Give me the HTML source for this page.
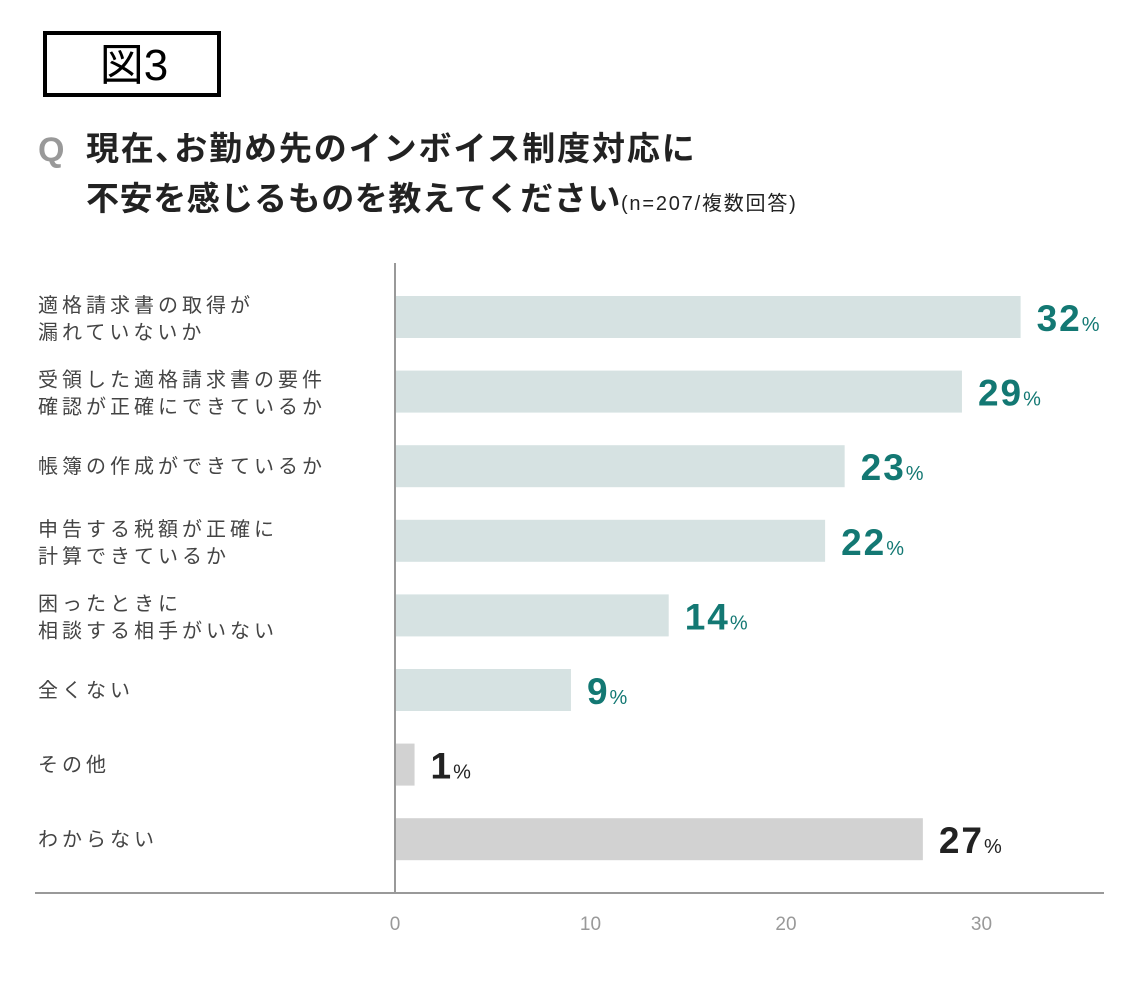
<!DOCTYPE html>
<html><head><meta charset="utf-8"><style>
body{margin:0;background:#fff;}
svg text{font-family:"Liberation Sans","Noto Sans CJK JP",sans-serif;}
</style></head><body>
<svg width="1143" height="983" viewBox="0 0 1143 983" xmlns="http://www.w3.org/2000/svg">
<rect x="45" y="33" width="174" height="62" fill="#fff" stroke="#000" stroke-width="4"/>
<text x="134" y="80" font-size="44" text-anchor="middle" fill="#000">図3</text>
<text x="38" y="161" font-size="34" font-weight="bold" fill="#999">Q</text>
<text x="86" y="160" font-size="33" font-weight="bold" fill="#222" letter-spacing="1.9">現在､お勤め先のインボイス制度対応に</text>
<text x="86" y="210" font-size="33" font-weight="bold" fill="#222" letter-spacing="0.6">不安を感じるものを教えてください<tspan font-size="20" font-weight="normal" letter-spacing="1.8">(n=207/複数回答)</tspan></text>
<g id="bars"></g>
<line x1="395" y1="263" x2="395" y2="893" stroke="#999" stroke-width="2"/>
<line x1="35" y1="893" x2="1104" y2="893" stroke="#999" stroke-width="2"/>
<g id="ticks"></g>
</svg>
<script>
const categories=[["適格請求書の取得が","漏れていないか"],["受領した適格請求書の要件","確認が正確にできているか"],["帳簿の作成ができているか"],["申告する税額が正確に","計算できているか"],["困ったときに","相談する相手がいない"],["全くない"],["その他"],["わからない"]];
const values=[32,29,23,22,14,9,1,27];
const highlight=[true,true,true,true,true,true,false,false];
const tickValues=[0,10,20,30];
const NS="http://www.w3.org/2000/svg";
const x=v=>395+v*19.55;
const yc=i=>317+i*74.6;
const bars=document.getElementById('bars');
function mk(tag,attrs,parent){const e=document.createElementNS(NS,tag);for(const k in attrs)e.setAttribute(k,attrs[k]);parent.appendChild(e);return e;}
values.forEach((v,i)=>{
  const c=yc(i);
  const r=mk('rect',{x:395,y:c-21,width:x(v)-395,height:42,fill:highlight[i]?'#d6e2e2':'#d2d2d2'},bars);
  
  
  const t=mk('text',{x:x(v)+16,y:c+14,'font-size':37,'font-weight':'bold','letter-spacing':2,fill:highlight[i]?'#137873':'#222'},bars);
  
  
  t.textContent=v;
  const p=mk('tspan',{'font-size':20,'font-weight':'normal','letter-spacing':0},t);p.textContent='%';
  const lines=categories[i];
  lines.forEach((ln,j)=>{
    const ly=lines.length===1?c+7:c-12+j*27+7;
    const l=mk('text',{x:38,y:ly,'font-size':20,fill:'#444','letter-spacing':'4'},bars);
    
    
    l.textContent=ln;
  });
});
const ticks=document.getElementById('ticks');
tickValues.forEach(v=>{
  const t=mk('text',{x:x(v),y:930,'font-size':19,fill:'#999','text-anchor':'middle'},ticks);
  
  
  t.textContent=v;
});
</script>
</body></html>
